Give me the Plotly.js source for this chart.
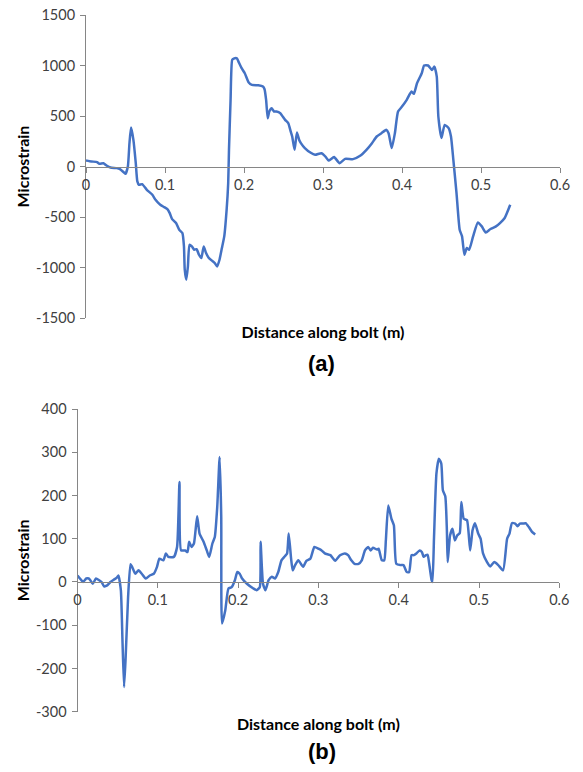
<!DOCTYPE html>
<html>
<head>
<meta charset="utf-8">
<script src="https://cdn.plot.ly/plotly-3.0.1.min.js"></script>
<style>
  html, body { margin: 0; padding: 0; background: #ffffff; }
  #chart { width: 583px; height: 772px; }
</style>
</head>
<body>
<div id="chart"></div>
<script>
// (a) strain profile along the bolt
const distanceA = [0, 0.007, 0.014, 0.017, 0.022, 0.026, 0.031, 0.039, 0.043, 0.048, 0.050, 0.053, 0.055, 0.057, 0.060, 0.063, 0.065, 0.067, 0.071, 0.077, 0.084, 0.088, 0.094, 0.099, 0.103, 0.106, 0.109, 0.114, 0.118, 0.122, 0.124, 0.125, 0.127, 0.129, 0.131, 0.134, 0.137, 0.140, 0.143, 0.146, 0.149, 0.152, 0.155, 0.159, 0.163, 0.166, 0.169, 0.172, 0.175, 0.178, 0.180, 0.181, 0.183, 0.185, 0.187, 0.191, 0.193, 0.197, 0.201, 0.206, 0.210, 0.218, 0.224, 0.226, 0.228, 0.230, 0.232, 0.235, 0.238, 0.241, 0.246, 0.249, 0.252, 0.256, 0.259, 0.261, 0.264, 0.267, 0.270, 0.272, 0.277, 0.284, 0.290, 0.298, 0.303, 0.307, 0.314, 0.321, 0.328, 0.338, 0.347, 0.355, 0.362, 0.368, 0.374, 0.380, 0.383, 0.387, 0.391, 0.395, 0.400, 0.406, 0.412, 0.415, 0.419, 0.425, 0.428, 0.433, 0.438, 0.441, 0.444, 0.446, 0.450, 0.454, 0.459, 0.462, 0.465, 0.469, 0.473, 0.476, 0.479, 0.482, 0.485, 0.490, 0.496, 0.501, 0.506, 0.512, 0.519, 0.524, 0.530, 0.537];
const strainA = [60, 50, 43, 26, 33, 10, -10, -16, -26, -59, -73, 0, 230, 385, 264, 33, -148, -181, -175, -231, -280, -330, -379, -402, -422, -462, -521, -560, -626, -659, -791, -1022, -1121, -989, -775, -791, -824, -818, -874, -907, -791, -857, -900, -930, -956, -989, -923, -808, -692, -429, -165, 165, 659, 1055, 1068, 1071, 1038, 973, 923, 831, 808, 804, 791, 765, 659, 478, 544, 577, 544, 544, 527, 495, 462, 429, 350, 297, 165, 336, 260, 231, 182, 138, 116, 132, 99, 59, 93, 33, 76, 73, 106, 165, 231, 297, 330, 363, 330, 182, 330, 544, 593, 660, 742, 719, 825, 924, 1000, 1000, 956, 989, 890, 495, 281, 412, 380, 297, 66, -263, -626, -692, -874, -807, -824, -692, -554, -593, -653, -619, -593, -560, -510, -379];
const strainTicksA = [-1500, -1000, -500, 0, 500, 1000, 1500];
const strainTickTextA = ['-1500', '-1000', '-500', '0', '500', '1000', '1500'];

// (b) strain profile along the bolt
const distanceB = [0, 0.003, 0.007, 0.011, 0.014, 0.016, 0.019, 0.023, 0.027, 0.030, 0.033, 0.037, 0.041, 0.045, 0.049, 0.051, 0.054, 0.056, 0.058, 0.060, 0.063, 0.066, 0.068, 0.072, 0.076, 0.080, 0.085, 0.090, 0.095, 0.099, 0.102, 0.107, 0.110, 0.113, 0.120, 0.124, 0.127, 0.129, 0.134, 0.137, 0.139, 0.142, 0.145, 0.149, 0.152, 0.157, 0.161, 0.164, 0.168, 0.171, 0.174, 0.177, 0.179, 0.180, 0.184, 0.188, 0.192, 0.196, 0.199, 0.202, 0.205, 0.211, 0.219, 0.223, 0.227, 0.228, 0.231, 0.234, 0.238, 0.242, 0.246, 0.250, 0.254, 0.258, 0.261, 0.263, 0.266, 0.268, 0.271, 0.275, 0.281, 0.285, 0.290, 0.295, 0.300, 0.304, 0.308, 0.315, 0.321, 0.327, 0.333, 0.337, 0.341, 0.345, 0.350, 0.354, 0.358, 0.362, 0.365, 0.368, 0.373, 0.375, 0.379, 0.382, 0.384, 0.387, 0.391, 0.394, 0.397, 0.402, 0.406, 0.410, 0.413, 0.416, 0.419, 0.422, 0.426, 0.429, 0.431, 0.434, 0.436, 0.438, 0.441, 0.442, 0.444, 0.447, 0.450, 0.453, 0.455, 0.458, 0.460, 0.461, 0.464, 0.467, 0.470, 0.473, 0.476, 0.478, 0.481, 0.485, 0.489, 0.492, 0.495, 0.499, 0.502, 0.505, 0.510, 0.514, 0.519, 0.524, 0.530, 0.535, 0.538, 0.541, 0.545, 0.548, 0.551, 0.555, 0.558, 0.562, 0.566, 0.570];
const strainB = [15, 8, 0, 8, 8, 4, -4, 8, 4, 0, -10, -8, 0, 5, 10, 15, -19, -135, -243, -173, -35, 41, 35, 19, 27, 19, 8, 15, 19, 35, 54, 50, 66, 58, 58, 81, 231, 73, 73, 69, 93, 81, 89, 152, 112, 93, 73, 58, 89, 104, 173, 289, 150, -96, -66, -15, -12, 4, 23, 19, 8, -4, -15, -19, -12, 93, -4, -19, 4, 12, 8, 23, 50, 59, 66, 112, 54, 27, 39, 50, 35, 49, 54, 81, 77, 73, 66, 62, 49, 62, 66, 62, 50, 42, 42, 50, 73, 81, 73, 79, 75, 77, 50, 50, 96, 177, 146, 131, 42, 39, 39, 23, 23, 62, 62, 66, 73, 69, 58, 62, 63, 42, 4, 0, 104, 251, 285, 274, 212, 198, 120, 46, 108, 123, 96, 108, 113, 185, 146, 143, 73, 120, 136, 112, 100, 66, 46, 36, 46, 39, 27, 100, 112, 136, 135, 129, 135, 135, 136, 127, 116, 110];
const strainTicksB = [-300, -200, -100, 0, 100, 200, 300, 400];
const strainTickTextB = ['-300', '-200', '-100', '0', '100', '200', '300', '400'];

const xTicks = [0, 0.1, 0.2, 0.3, 0.4, 0.5, 0.6];
const xTickText = ['0', '0.1', '0.2', '0.3', '0.4', '0.5', '0.6'];
const xTitle = 'Distance along bolt (m)';
const yTitle = 'Microstrain';
const panelLabels = ['(a)', '(b)'];

const W = 583, H = 772;
const lineColor = '#4472C4';
const axisColor = '#868686';
const tickFont = { family: 'Lato, "Open Sans", sans-serif', size: 14.5, color: '#404040' };
const titleFont = { family: 'Lato, "Open Sans", sans-serif', size: 16, color: '#000000', weight: 'bold' };

// pixel boxes of the two plot areas
const boxA = { l: 86, r: 560, t: 15, b: 318, range: [-1500, 1500] };
const boxB = { l: 77.5, r: 559.3, t: 409, b: 711.7, range: [-300, 400] };

function xDomain(box) { return [box.l / W, box.r / W]; }
function yDomain(box) { return [1 - box.b / H, 1 - box.t / H]; }
// x axis crosses the y axis at zero
function zeroPos(box) {
  const d = yDomain(box);
  return d[0] + (0 - box.range[0]) / (box.range[1] - box.range[0]) * (d[1] - d[0]);
}

function xAxis(box, standoff) {
  return {
    domain: xDomain(box), range: [0, 0.6], anchor: 'free',
    position: zeroPos(box),
    tickmode: 'array', tickvals: xTicks, ticktext: xTickText,
    showline: true, linecolor: axisColor, linewidth: 1,
    ticks: 'outside', ticklen: 5, tickcolor: axisColor, tickwidth: 1,
    showgrid: false, zeroline: false, tickfont: tickFont,
    title: { text: xTitle, font: titleFont, standoff: standoff },
    fixedrange: true
  };
}
function yAxis(box, xRef, vals, text) {
  return {
    domain: yDomain(box), range: box.range,
    tickmode: 'array', tickvals: vals, ticktext: text,
    anchor: xRef,
    showline: true, linecolor: axisColor, linewidth: 1,
    ticks: 'outside', ticklen: 5, tickcolor: axisColor, tickwidth: 1,
    showgrid: false, zeroline: false, tickfont: tickFont,
    ticklabelstandoff: 2,
    title: { text: yTitle, font: titleFont, standoff: 2 },
    fixedrange: true
  };
}

const traces = [
  { x: distanceA, y: strainA, xaxis: 'x', yaxis: 'y', type: 'scatter', mode: 'lines',
    line: { color: lineColor, width: 2.5, shape: 'spline', smoothing: 0.5 }, hoverinfo: 'skip' },
  { x: distanceB, y: strainB, xaxis: 'x2', yaxis: 'y2', type: 'scatter', mode: 'lines',
    line: { color: lineColor, width: 2.5, shape: 'spline', smoothing: 0.5 }, hoverinfo: 'skip' }
];

const labelFont = { family: '"Liberation Sans", Arial, sans-serif', size: 22, color: '#000000', weight: 'bold' };

const layout = {
  width: W, height: H,
  margin: { l: 0, r: 0, t: 0, b: 0 },
  paper_bgcolor: '#ffffff', plot_bgcolor: '#ffffff',
  showlegend: false,
  xaxis: xAxis(boxA, 134),
  yaxis: yAxis(boxA, 'x', strainTicksA, strainTickTextA),
  xaxis2: xAxis(boxB, 111),
  yaxis2: yAxis(boxB, 'x2', strainTicksB, strainTickTextB),
  annotations: [
    { text: panelLabels[0], xref: 'paper', yref: 'paper', x: 321.7 / W, y: 1 - 363 / H,
      xanchor: 'center', yanchor: 'middle', showarrow: false, font: labelFont },
    { text: panelLabels[1], xref: 'paper', yref: 'paper', x: 321.7 / W, y: 1 - 751.7 / H,
      xanchor: 'center', yanchor: 'middle', showarrow: false, font: labelFont }
  ]
};

Plotly.newPlot('chart', traces, layout, { staticPlot: true, displayModeBar: false });
</script>
</body>
</html>
